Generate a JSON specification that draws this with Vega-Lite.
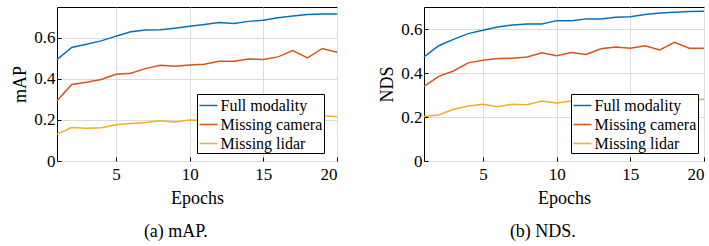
{
  "$schema": "https://vega.github.io/schema/vega-lite/v6.json",
  "padding": {"left": 11, "top": 6, "right": 0, "bottom": 0},
  "config": {
    "font": "Liberation Serif",
    "view": {"stroke": "black", "strokeWidth": 1},
    "axis": {
      "domain": false,
      "gridColor": "#dcdcdc",
      "tickColor": "black",
      "tickSize": -4,
      "labelFont": "Liberation Serif",
      "labelFontSize": 17,
      "labelColor": "black",
      "titleFont": "Liberation Serif",
      "titleFontSize": 18,
      "titleFontWeight": "normal",
      "titleColor": "black"
    },
    "legend": {
      "title": null,
      "orient": "none",
      "labelFont": "Liberation Serif",
      "labelFontSize": 16,
      "labelColor": "black",
      "symbolType": "stroke",
      "symbolSize": 324,
      "symbolStrokeWidth": 1.5,
      "strokeColor": "black",
      "fillColor": "white",
      "padding": 1.5,
      "rowPadding": 1,
      "labelOffset": 2
    },
    "title": {"font": "Liberation Serif", "fontSize": 18, "fontWeight": "normal", "color": "black", "orient": "bottom", "offset": 16, "frame": "bounds", "anchor": "middle"}
  },
  "datasets": {
    "map": [
      {"epoch": 1, "series": "Full modality", "v": 0.494},
      {"epoch": 2, "series": "Full modality", "v": 0.553},
      {"epoch": 3, "series": "Full modality", "v": 0.569},
      {"epoch": 4, "series": "Full modality", "v": 0.585},
      {"epoch": 5, "series": "Full modality", "v": 0.608},
      {"epoch": 6, "series": "Full modality", "v": 0.629},
      {"epoch": 7, "series": "Full modality", "v": 0.638},
      {"epoch": 8, "series": "Full modality", "v": 0.639},
      {"epoch": 9, "series": "Full modality", "v": 0.647},
      {"epoch": 10, "series": "Full modality", "v": 0.656},
      {"epoch": 11, "series": "Full modality", "v": 0.665},
      {"epoch": 12, "series": "Full modality", "v": 0.675},
      {"epoch": 13, "series": "Full modality", "v": 0.670},
      {"epoch": 14, "series": "Full modality", "v": 0.680},
      {"epoch": 15, "series": "Full modality", "v": 0.685},
      {"epoch": 16, "series": "Full modality", "v": 0.698},
      {"epoch": 17, "series": "Full modality", "v": 0.706},
      {"epoch": 18, "series": "Full modality", "v": 0.713},
      {"epoch": 19, "series": "Full modality", "v": 0.716},
      {"epoch": 20, "series": "Full modality", "v": 0.716},
      {"epoch": 1, "series": "Missing camera", "v": 0.294},
      {"epoch": 2, "series": "Missing camera", "v": 0.373},
      {"epoch": 3, "series": "Missing camera", "v": 0.384},
      {"epoch": 4, "series": "Missing camera", "v": 0.397},
      {"epoch": 5, "series": "Missing camera", "v": 0.422},
      {"epoch": 6, "series": "Missing camera", "v": 0.427},
      {"epoch": 7, "series": "Missing camera", "v": 0.450},
      {"epoch": 8, "series": "Missing camera", "v": 0.466},
      {"epoch": 9, "series": "Missing camera", "v": 0.461},
      {"epoch": 10, "series": "Missing camera", "v": 0.468},
      {"epoch": 11, "series": "Missing camera", "v": 0.471},
      {"epoch": 12, "series": "Missing camera", "v": 0.486},
      {"epoch": 13, "series": "Missing camera", "v": 0.486},
      {"epoch": 14, "series": "Missing camera", "v": 0.497},
      {"epoch": 15, "series": "Missing camera", "v": 0.494},
      {"epoch": 16, "series": "Missing camera", "v": 0.507},
      {"epoch": 17, "series": "Missing camera", "v": 0.538},
      {"epoch": 18, "series": "Missing camera", "v": 0.502},
      {"epoch": 19, "series": "Missing camera", "v": 0.548},
      {"epoch": 20, "series": "Missing camera", "v": 0.530},
      {"epoch": 1, "series": "Missing lidar", "v": 0.131},
      {"epoch": 2, "series": "Missing lidar", "v": 0.163},
      {"epoch": 3, "series": "Missing lidar", "v": 0.159},
      {"epoch": 4, "series": "Missing lidar", "v": 0.162},
      {"epoch": 5, "series": "Missing lidar", "v": 0.177},
      {"epoch": 6, "series": "Missing lidar", "v": 0.183},
      {"epoch": 7, "series": "Missing lidar", "v": 0.188},
      {"epoch": 8, "series": "Missing lidar", "v": 0.196},
      {"epoch": 9, "series": "Missing lidar", "v": 0.190},
      {"epoch": 10, "series": "Missing lidar", "v": 0.200},
      {"epoch": 11, "series": "Missing lidar", "v": 0.198},
      {"epoch": 12, "series": "Missing lidar", "v": 0.200},
      {"epoch": 13, "series": "Missing lidar", "v": 0.205},
      {"epoch": 14, "series": "Missing lidar", "v": 0.205},
      {"epoch": 15, "series": "Missing lidar", "v": 0.210},
      {"epoch": 16, "series": "Missing lidar", "v": 0.210},
      {"epoch": 17, "series": "Missing lidar", "v": 0.215},
      {"epoch": 18, "series": "Missing lidar", "v": 0.220},
      {"epoch": 19, "series": "Missing lidar", "v": 0.221},
      {"epoch": 20, "series": "Missing lidar", "v": 0.216}
    ],
    "nds": [
      {"epoch": 1, "series": "Full modality", "v": 0.473},
      {"epoch": 2, "series": "Full modality", "v": 0.524},
      {"epoch": 3, "series": "Full modality", "v": 0.553},
      {"epoch": 4, "series": "Full modality", "v": 0.579},
      {"epoch": 5, "series": "Full modality", "v": 0.594},
      {"epoch": 6, "series": "Full modality", "v": 0.609},
      {"epoch": 7, "series": "Full modality", "v": 0.618},
      {"epoch": 8, "series": "Full modality", "v": 0.623},
      {"epoch": 9, "series": "Full modality", "v": 0.623},
      {"epoch": 10, "series": "Full modality", "v": 0.638},
      {"epoch": 11, "series": "Full modality", "v": 0.638},
      {"epoch": 12, "series": "Full modality", "v": 0.646},
      {"epoch": 13, "series": "Full modality", "v": 0.646},
      {"epoch": 14, "series": "Full modality", "v": 0.653},
      {"epoch": 15, "series": "Full modality", "v": 0.656},
      {"epoch": 16, "series": "Full modality", "v": 0.666},
      {"epoch": 17, "series": "Full modality", "v": 0.673},
      {"epoch": 18, "series": "Full modality", "v": 0.676},
      {"epoch": 19, "series": "Full modality", "v": 0.679},
      {"epoch": 20, "series": "Full modality", "v": 0.681},
      {"epoch": 1, "series": "Missing camera", "v": 0.339},
      {"epoch": 2, "series": "Missing camera", "v": 0.385},
      {"epoch": 3, "series": "Missing camera", "v": 0.409},
      {"epoch": 4, "series": "Missing camera", "v": 0.446},
      {"epoch": 5, "series": "Missing camera", "v": 0.458},
      {"epoch": 6, "series": "Missing camera", "v": 0.466},
      {"epoch": 7, "series": "Missing camera", "v": 0.467},
      {"epoch": 8, "series": "Missing camera", "v": 0.473},
      {"epoch": 9, "series": "Missing camera", "v": 0.492},
      {"epoch": 10, "series": "Missing camera", "v": 0.479},
      {"epoch": 11, "series": "Missing camera", "v": 0.493},
      {"epoch": 12, "series": "Missing camera", "v": 0.484},
      {"epoch": 13, "series": "Missing camera", "v": 0.510},
      {"epoch": 14, "series": "Missing camera", "v": 0.518},
      {"epoch": 15, "series": "Missing camera", "v": 0.513},
      {"epoch": 16, "series": "Missing camera", "v": 0.524},
      {"epoch": 17, "series": "Missing camera", "v": 0.505},
      {"epoch": 18, "series": "Missing camera", "v": 0.539},
      {"epoch": 19, "series": "Missing camera", "v": 0.513},
      {"epoch": 20, "series": "Missing camera", "v": 0.513},
      {"epoch": 1, "series": "Missing lidar", "v": 0.202},
      {"epoch": 2, "series": "Missing lidar", "v": 0.209},
      {"epoch": 3, "series": "Missing lidar", "v": 0.235},
      {"epoch": 4, "series": "Missing lidar", "v": 0.250},
      {"epoch": 5, "series": "Missing lidar", "v": 0.258},
      {"epoch": 6, "series": "Missing lidar", "v": 0.247},
      {"epoch": 7, "series": "Missing lidar", "v": 0.258},
      {"epoch": 8, "series": "Missing lidar", "v": 0.256},
      {"epoch": 9, "series": "Missing lidar", "v": 0.273},
      {"epoch": 10, "series": "Missing lidar", "v": 0.264},
      {"epoch": 11, "series": "Missing lidar", "v": 0.273},
      {"epoch": 12, "series": "Missing lidar", "v": 0.272},
      {"epoch": 13, "series": "Missing lidar", "v": 0.275},
      {"epoch": 14, "series": "Missing lidar", "v": 0.276},
      {"epoch": 15, "series": "Missing lidar", "v": 0.275},
      {"epoch": 16, "series": "Missing lidar", "v": 0.278},
      {"epoch": 17, "series": "Missing lidar", "v": 0.277},
      {"epoch": 18, "series": "Missing lidar", "v": 0.280},
      {"epoch": 19, "series": "Missing lidar", "v": 0.279},
      {"epoch": 20, "series": "Missing lidar", "v": 0.279}
    ]
  },
  "spacing": 37,
  "hconcat": [
    {
      "title": "(a)  mAP.",
      "width": 280,
      "height": 154,
      "data": {"name": "map"},
      "mark": {"type": "line", "strokeWidth": 1.5},
      "encoding": {
        "x": {"field": "epoch", "type": "quantitative", "scale": {"domain": [1, 20], "nice": false}, "axis": {"title": "Epochs", "values": [5, 10, 15, 20], "labelPadding": 9, "titlePadding": 7}},
        "y": {"field": "v", "type": "quantitative", "scale": {"domain": [0, 0.75], "nice": false}, "axis": {"title": "mAP", "values": [0, 0.2, 0.4, 0.6], "format": "~g", "labelPadding": 6, "titlePadding": 4}},
        "color": {"field": "series", "type": "nominal", "scale": {"domain": ["Full modality", "Missing camera", "Missing lidar"], "range": ["#0072BD", "#D95319", "#EDB120"]}, "legend": {"legendX": 140, "legendY": 87}}
      }
    },
    {
      "title": "(b)  NDS.",
      "width": 280,
      "height": 154,
      "data": {"name": "nds"},
      "mark": {"type": "line", "strokeWidth": 1.5},
      "encoding": {
        "x": {"field": "epoch", "type": "quantitative", "scale": {"domain": [1, 20], "nice": false}, "axis": {"title": "Epochs", "values": [5, 10, 15, 20], "labelPadding": 9, "titlePadding": 7}},
        "y": {"field": "v", "type": "quantitative", "scale": {"domain": [0, 0.7], "nice": false}, "axis": {"title": "NDS", "values": [0, 0.2, 0.4, 0.6], "format": "~g", "labelPadding": 6, "titlePadding": 4}},
        "color": {"field": "series", "type": "nominal", "scale": {"domain": ["Full modality", "Missing camera", "Missing lidar"], "range": ["#0072BD", "#D95319", "#EDB120"]}, "legend": {"legendX": 147, "legendY": 87}}
      }
    }
  ],
  "resolve": {"scale": {"color": "independent"}}
}
